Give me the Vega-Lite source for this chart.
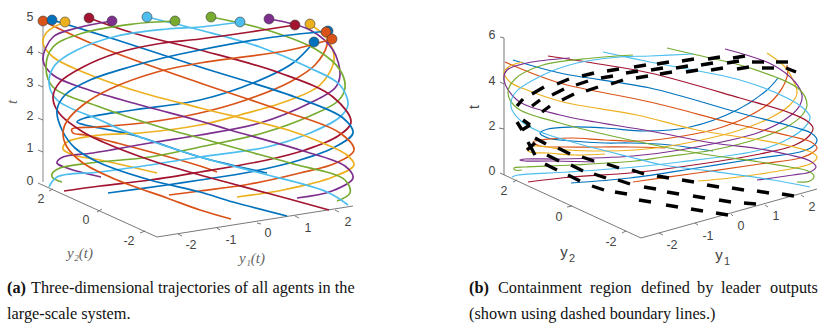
{"$schema":"https://vega.github.io/schema/vega-lite/v6.json","width":832,"height":329,"autosize":{"type":"fit","contains":"padding"},"padding":0,"background":"white","config":{"view":{"stroke":null}},
"datasets":{
"a":[
{"a":1,"c":"blue","i":0,"x":267,"y":173},{"a":1,"c":"blue","i":1,"x":200,"y":157},{"a":1,"c":"blue","i":2,"x":133,"y":135},{"a":1,"c":"blue","i":3,"x":100,"y":128},{"a":1,"c":"blue","i":4,"x":85,"y":125},{"a":1,"c":"blue","i":5,"x":77,"y":122},{"a":1,"c":"blue","i":6,"x":85,"y":118},{"a":1,"c":"blue","i":7,"x":133,"y":110},{"a":1,"c":"blue","i":8,"x":200,"y":100},{"a":1,"c":"blue","i":9,"x":253,"y":83},{"a":1,"c":"blue","i":10,"x":293,"y":63},{"a":1,"c":"blue","i":11,"x":314,"y":42},
{"a":2,"c":"orange","i":0,"x":217,"y":172},{"a":2,"c":"orange","i":1,"x":200,"y":166},{"a":2,"c":"orange","i":2,"x":117,"y":143},{"a":2,"c":"orange","i":3,"x":85,"y":135},{"a":2,"c":"orange","i":4,"x":73,"y":133},{"a":2,"c":"orange","i":5,"x":72,"y":129},{"a":2,"c":"orange","i":6,"x":97,"y":127},{"a":2,"c":"orange","i":7,"x":150,"y":122},{"a":2,"c":"orange","i":8,"x":200,"y":113},{"a":2,"c":"orange","i":9,"x":246,"y":100},{"a":2,"c":"orange","i":10,"x":290,"y":82},{"a":2,"c":"orange","i":11,"x":315,"y":65},{"a":2,"c":"orange","i":12,"x":327,"y":45},{"a":2,"c":"orange","i":13,"x":326,"y":32},
{"a":3,"c":"yellow","i":0,"x":157,"y":173},{"a":3,"c":"yellow","i":1,"x":100,"y":160},{"a":3,"c":"yellow","i":2,"x":73,"y":155},{"a":3,"c":"yellow","i":3,"x":63,"y":149},{"a":3,"c":"yellow","i":4,"x":67,"y":142},{"a":3,"c":"yellow","i":5,"x":100,"y":135},{"a":3,"c":"yellow","i":6,"x":140,"y":133},{"a":3,"c":"yellow","i":7,"x":200,"y":125},{"a":3,"c":"yellow","i":8,"x":240,"y":115},{"a":3,"c":"yellow","i":9,"x":290,"y":100},{"a":3,"c":"yellow","i":10,"x":320,"y":85},{"a":3,"c":"yellow","i":11,"x":334,"y":60},{"a":3,"c":"yellow","i":12,"x":328,"y":40},{"a":3,"c":"yellow","i":13,"x":310,"y":24},
{"a":4,"c":"purple","i":0,"x":101,"y":177},{"a":4,"c":"purple","i":1,"x":67,"y":168},{"a":4,"c":"purple","i":2,"x":57,"y":163},{"a":4,"c":"purple","i":3,"x":63,"y":157},{"a":4,"c":"purple","i":4,"x":93,"y":153},{"a":4,"c":"purple","i":5,"x":150,"y":143},{"a":4,"c":"purple","i":6,"x":200,"y":135},{"a":4,"c":"purple","i":7,"x":260,"y":123},{"a":4,"c":"purple","i":8,"x":310,"y":103},{"a":4,"c":"purple","i":9,"x":335,"y":88},{"a":4,"c":"purple","i":10,"x":340,"y":75},{"a":4,"c":"purple","i":11,"x":333,"y":50},{"a":4,"c":"purple","i":12,"x":310,"y":30},{"a":4,"c":"purple","i":13,"x":269,"y":19},
{"a":5,"c":"green","i":0,"x":62,"y":182},{"a":5,"c":"green","i":1,"x":53,"y":178},{"a":5,"c":"green","i":2,"x":52,"y":174},{"a":5,"c":"green","i":3,"x":60,"y":168},{"a":5,"c":"green","i":4,"x":90,"y":163},{"a":5,"c":"green","i":5,"x":150,"y":157},{"a":5,"c":"green","i":6,"x":200,"y":147},{"a":5,"c":"green","i":7,"x":263,"y":133},{"a":5,"c":"green","i":8,"x":310,"y":116},{"a":5,"c":"green","i":9,"x":338,"y":101},{"a":5,"c":"green","i":10,"x":345,"y":88},{"a":5,"c":"green","i":11,"x":340,"y":70},{"a":5,"c":"green","i":12,"x":317,"y":50},{"a":5,"c":"green","i":13,"x":267,"y":30},{"a":5,"c":"green","i":14,"x":211,"y":17},
{"a":6,"c":"lightblue","i":0,"x":49,"y":187},{"a":6,"c":"lightblue","i":1,"x":57,"y":177},{"a":6,"c":"lightblue","i":2,"x":100,"y":172},{"a":6,"c":"lightblue","i":3,"x":150,"y":165},{"a":6,"c":"lightblue","i":4,"x":200,"y":157},{"a":6,"c":"lightblue","i":5,"x":267,"y":147},{"a":6,"c":"lightblue","i":6,"x":310,"y":133},{"a":6,"c":"lightblue","i":7,"x":340,"y":117},{"a":6,"c":"lightblue","i":8,"x":348,"y":105},{"a":6,"c":"lightblue","i":9,"x":340,"y":85},{"a":6,"c":"lightblue","i":10,"x":310,"y":68},{"a":6,"c":"lightblue","i":11,"x":260,"y":47},{"a":6,"c":"lightblue","i":12,"x":200,"y":30},{"a":6,"c":"lightblue","i":13,"x":147,"y":17},
{"a":7,"c":"crimson","i":0,"x":64,"y":191},{"a":7,"c":"crimson","i":1,"x":100,"y":186},{"a":7,"c":"crimson","i":2,"x":150,"y":180},{"a":7,"c":"crimson","i":3,"x":200,"y":172},{"a":7,"c":"crimson","i":4,"x":267,"y":160},{"a":7,"c":"crimson","i":5,"x":305,"y":150},{"a":7,"c":"crimson","i":6,"x":338,"y":136},{"a":7,"c":"crimson","i":7,"x":351,"y":122},{"a":7,"c":"crimson","i":8,"x":333,"y":97},{"a":7,"c":"crimson","i":9,"x":280,"y":73},{"a":7,"c":"crimson","i":10,"x":200,"y":50},{"a":7,"c":"crimson","i":11,"x":133,"y":33},{"a":7,"c":"crimson","i":12,"x":89,"y":18},
{"a":8,"c":"blue","i":0,"x":108,"y":193},{"a":8,"c":"blue","i":1,"x":167,"y":185},{"a":8,"c":"blue","i":2,"x":200,"y":180},{"a":8,"c":"blue","i":3,"x":250,"y":172},{"a":8,"c":"blue","i":4,"x":300,"y":160},{"a":8,"c":"blue","i":5,"x":335,"y":147},{"a":8,"c":"blue","i":6,"x":353,"y":133},{"a":8,"c":"blue","i":7,"x":343,"y":118},{"a":8,"c":"blue","i":8,"x":295,"y":97},{"a":8,"c":"blue","i":9,"x":200,"y":67},{"a":8,"c":"blue","i":10,"x":117,"y":40},{"a":8,"c":"blue","i":11,"x":52,"y":20},
{"a":9,"c":"orange","i":0,"x":169,"y":195},{"a":9,"c":"orange","i":1,"x":200,"y":191},{"a":9,"c":"orange","i":2,"x":250,"y":184},{"a":9,"c":"orange","i":3,"x":300,"y":173},{"a":9,"c":"orange","i":4,"x":336,"y":163},{"a":9,"c":"orange","i":5,"x":354,"y":150},{"a":9,"c":"orange","i":6,"x":340,"y":133},{"a":9,"c":"orange","i":7,"x":280,"y":110},{"a":9,"c":"orange","i":8,"x":200,"y":83},{"a":9,"c":"orange","i":9,"x":100,"y":47},{"a":9,"c":"orange","i":10,"x":43,"y":21},
{"a":10,"c":"yellow","i":0,"x":237,"y":197},{"a":10,"c":"yellow","i":1,"x":283,"y":190},{"a":10,"c":"yellow","i":2,"x":333,"y":177},{"a":10,"c":"yellow","i":3,"x":354,"y":165},{"a":10,"c":"yellow","i":4,"x":347,"y":155},{"a":10,"c":"yellow","i":5,"x":323,"y":143},{"a":10,"c":"yellow","i":6,"x":288,"y":130},{"a":10,"c":"yellow","i":7,"x":200,"y":108},{"a":10,"c":"yellow","i":8,"x":133,"y":90},{"a":10,"c":"yellow","i":9,"x":83,"y":72},{"a":10,"c":"yellow","i":10,"x":53,"y":57},{"a":10,"c":"yellow","i":11,"x":43,"y":43},{"a":10,"c":"yellow","i":12,"x":47,"y":32},{"a":10,"c":"yellow","i":13,"x":65,"y":22},
{"a":11,"c":"purple","i":0,"x":297,"y":198},{"a":11,"c":"purple","i":1,"x":332,"y":191},{"a":11,"c":"purple","i":2,"x":353,"y":178},{"a":11,"c":"purple","i":3,"x":345,"y":166},{"a":11,"c":"purple","i":4,"x":300,"y":150},{"a":11,"c":"purple","i":5,"x":230,"y":130},{"a":11,"c":"purple","i":6,"x":200,"y":121},{"a":11,"c":"purple","i":7,"x":133,"y":103},{"a":11,"c":"purple","i":8,"x":83,"y":88},{"a":11,"c":"purple","i":9,"x":53,"y":75},{"a":11,"c":"purple","i":10,"x":43,"y":60},{"a":11,"c":"purple","i":11,"x":53,"y":37},{"a":11,"c":"purple","i":12,"x":77,"y":28},{"a":11,"c":"purple","i":13,"x":112,"y":21},
{"a":12,"c":"green","i":0,"x":337,"y":201},{"a":12,"c":"green","i":1,"x":350,"y":193},{"a":12,"c":"green","i":2,"x":345,"y":180},{"a":12,"c":"green","i":3,"x":290,"y":163},{"a":12,"c":"green","i":4,"x":243,"y":150},{"a":12,"c":"green","i":5,"x":200,"y":138},{"a":12,"c":"green","i":6,"x":160,"y":127},{"a":12,"c":"green","i":7,"x":100,"y":107},{"a":12,"c":"green","i":8,"x":53,"y":87},{"a":12,"c":"green","i":9,"x":46,"y":68},{"a":12,"c":"green","i":10,"x":53,"y":47},{"a":12,"c":"green","i":11,"x":83,"y":33},{"a":12,"c":"green","i":12,"x":133,"y":24},{"a":12,"c":"green","i":13,"x":175,"y":21},
{"a":13,"c":"lightblue","i":0,"x":348,"y":205},{"a":13,"c":"lightblue","i":1,"x":327,"y":192},{"a":13,"c":"lightblue","i":2,"x":260,"y":173},{"a":13,"c":"lightblue","i":3,"x":200,"y":157},{"a":13,"c":"lightblue","i":4,"x":127,"y":132},{"a":13,"c":"lightblue","i":5,"x":100,"y":120},{"a":13,"c":"lightblue","i":6,"x":57,"y":100},{"a":13,"c":"lightblue","i":7,"x":49,"y":83},{"a":13,"c":"lightblue","i":8,"x":55,"y":65},{"a":13,"c":"lightblue","i":9,"x":77,"y":50},{"a":13,"c":"lightblue","i":10,"x":117,"y":36},{"a":13,"c":"lightblue","i":11,"x":167,"y":29},{"a":13,"c":"lightblue","i":12,"x":200,"y":27},{"a":13,"c":"lightblue","i":13,"x":240,"y":22},
{"a":14,"c":"crimson","i":0,"x":329,"y":210},{"a":14,"c":"crimson","i":1,"x":267,"y":193},{"a":14,"c":"crimson","i":2,"x":200,"y":175},{"a":14,"c":"crimson","i":3,"x":150,"y":160},{"a":14,"c":"crimson","i":4,"x":103,"y":142},{"a":14,"c":"crimson","i":5,"x":83,"y":132},{"a":14,"c":"crimson","i":6,"x":59,"y":113},{"a":14,"c":"crimson","i":7,"x":53,"y":97},{"a":14,"c":"crimson","i":8,"x":60,"y":82},{"a":14,"c":"crimson","i":9,"x":83,"y":67},{"a":14,"c":"crimson","i":10,"x":117,"y":53},{"a":14,"c":"crimson","i":11,"x":157,"y":44},{"a":14,"c":"crimson","i":12,"x":200,"y":39},{"a":14,"c":"crimson","i":13,"x":250,"y":32},{"a":14,"c":"crimson","i":14,"x":295,"y":25},
{"a":15,"c":"blue","i":0,"x":287,"y":216},{"a":15,"c":"blue","i":1,"x":233,"y":202},{"a":15,"c":"blue","i":2,"x":200,"y":192},{"a":15,"c":"blue","i":3,"x":150,"y":180},{"a":15,"c":"blue","i":4,"x":100,"y":163},{"a":15,"c":"blue","i":5,"x":75,"y":148},{"a":15,"c":"blue","i":6,"x":62,"y":130},{"a":15,"c":"blue","i":7,"x":57,"y":110},{"a":15,"c":"blue","i":8,"x":65,"y":95},{"a":15,"c":"blue","i":9,"x":90,"y":80},{"a":15,"c":"blue","i":10,"x":133,"y":66},{"a":15,"c":"blue","i":11,"x":167,"y":57},{"a":15,"c":"blue","i":12,"x":200,"y":50},{"a":15,"c":"blue","i":13,"x":267,"y":38},{"a":15,"c":"blue","i":14,"x":328,"y":31},
{"a":16,"c":"orange","i":0,"x":231,"y":219},{"a":16,"c":"orange","i":1,"x":200,"y":210},{"a":16,"c":"orange","i":2,"x":167,"y":198},{"a":16,"c":"orange","i":3,"x":117,"y":180},{"a":16,"c":"orange","i":4,"x":83,"y":163},{"a":16,"c":"orange","i":5,"x":67,"y":147},{"a":16,"c":"orange","i":6,"x":63,"y":133},{"a":16,"c":"orange","i":7,"x":67,"y":121},{"a":16,"c":"orange","i":8,"x":83,"y":105},{"a":16,"c":"orange","i":9,"x":110,"y":89},{"a":16,"c":"orange","i":10,"x":157,"y":72},{"a":16,"c":"orange","i":11,"x":200,"y":63},{"a":16,"c":"orange","i":12,"x":290,"y":50},{"a":16,"c":"orange","i":13,"x":332,"y":39}
],
"b":[
{"a":1,"c":"blue","i":0,"x":713,"y":151},{"a":1,"c":"blue","i":1,"x":670,"y":145},{"a":1,"c":"blue","i":2,"x":630,"y":143},{"a":1,"c":"blue","i":3,"x":605,"y":143},{"a":1,"c":"blue","i":4,"x":572,"y":141},{"a":1,"c":"blue","i":5,"x":548,"y":138},{"a":1,"c":"blue","i":6,"x":540,"y":133},{"a":1,"c":"blue","i":7,"x":548,"y":129},{"a":1,"c":"blue","i":8,"x":572,"y":127},{"a":1,"c":"blue","i":9,"x":605,"y":128},{"a":1,"c":"blue","i":10,"x":645,"y":131},{"a":1,"c":"blue","i":11,"x":690,"y":127},{"a":1,"c":"blue","i":12,"x":737,"y":110},{"a":1,"c":"blue","i":13,"x":767,"y":90},{"a":1,"c":"blue","i":14,"x":778,"y":78},
{"a":2,"c":"orange","i":0,"x":665,"y":148},{"a":2,"c":"orange","i":1,"x":630,"y":147},{"a":2,"c":"orange","i":2,"x":600,"y":147},{"a":2,"c":"orange","i":3,"x":565,"y":147},{"a":2,"c":"orange","i":4,"x":540,"y":146},{"a":2,"c":"orange","i":5,"x":533,"y":142},{"a":2,"c":"orange","i":6,"x":540,"y":140},{"a":2,"c":"orange","i":7,"x":550,"y":139},{"a":2,"c":"orange","i":8,"x":572,"y":138},{"a":2,"c":"orange","i":9,"x":605,"y":140},{"a":2,"c":"orange","i":10,"x":640,"y":141},{"a":2,"c":"orange","i":11,"x":683,"y":136},{"a":2,"c":"orange","i":12,"x":716,"y":129},{"a":2,"c":"orange","i":13,"x":747,"y":117},{"a":2,"c":"orange","i":14,"x":773,"y":100},{"a":2,"c":"orange","i":15,"x":787,"y":77},{"a":2,"c":"orange","i":16,"x":787,"y":65},
{"a":3,"c":"yellow","i":0,"x":605,"y":154},{"a":3,"c":"yellow","i":1,"x":575,"y":155},{"a":3,"c":"yellow","i":2,"x":548,"y":153},{"a":3,"c":"yellow","i":3,"x":530,"y":152},{"a":3,"c":"yellow","i":4,"x":527,"y":149},{"a":3,"c":"yellow","i":5,"x":535,"y":146},{"a":3,"c":"yellow","i":6,"x":568,"y":150},{"a":3,"c":"yellow","i":7,"x":605,"y":151},{"a":3,"c":"yellow","i":8,"x":635,"y":150},{"a":3,"c":"yellow","i":9,"x":663,"y":147},{"a":3,"c":"yellow","i":10,"x":697,"y":141},{"a":3,"c":"yellow","i":11,"x":740,"y":130},{"a":3,"c":"yellow","i":12,"x":770,"y":118},{"a":3,"c":"yellow","i":13,"x":790,"y":105},{"a":3,"c":"yellow","i":14,"x":797,"y":93},{"a":3,"c":"yellow","i":15,"x":793,"y":80},{"a":3,"c":"yellow","i":16,"x":785,"y":67},{"a":3,"c":"yellow","i":17,"x":767,"y":53},
{"a":4,"c":"purple","i":0,"x":595,"y":162},{"a":4,"c":"purple","i":1,"x":550,"y":161},{"a":4,"c":"purple","i":2,"x":525,"y":161},{"a":4,"c":"purple","i":3,"x":520,"y":160},{"a":4,"c":"purple","i":4,"x":525,"y":159},{"a":4,"c":"purple","i":5,"x":560,"y":159},{"a":4,"c":"purple","i":6,"x":633,"y":156},{"a":4,"c":"purple","i":7,"x":680,"y":150},{"a":4,"c":"purple","i":8,"x":760,"y":132},{"a":4,"c":"purple","i":9,"x":790,"y":116},{"a":4,"c":"purple","i":10,"x":800,"y":105},{"a":4,"c":"purple","i":11,"x":802,"y":95},{"a":4,"c":"purple","i":12,"x":795,"y":82},{"a":4,"c":"purple","i":13,"x":773,"y":65},{"a":4,"c":"purple","i":14,"x":725,"y":49},
{"a":5,"c":"green","i":0,"x":522,"y":170},{"a":5,"c":"green","i":1,"x":515,"y":170},{"a":5,"c":"green","i":2,"x":514,"y":168},{"a":5,"c":"green","i":3,"x":525,"y":167},{"a":5,"c":"green","i":4,"x":572,"y":165},{"a":5,"c":"green","i":5,"x":635,"y":161},{"a":5,"c":"green","i":6,"x":663,"y":157},{"a":5,"c":"green","i":7,"x":713,"y":150},{"a":5,"c":"green","i":8,"x":760,"y":138},{"a":5,"c":"green","i":9,"x":790,"y":125},{"a":5,"c":"green","i":10,"x":803,"y":114},{"a":5,"c":"green","i":11,"x":807,"y":105},{"a":5,"c":"green","i":12,"x":800,"y":90},{"a":5,"c":"green","i":13,"x":750,"y":68},{"a":5,"c":"green","i":14,"x":697,"y":55},{"a":5,"c":"green","i":15,"x":667,"y":48},
{"a":6,"c":"lightblue","i":0,"x":512,"y":177},{"a":6,"c":"lightblue","i":1,"x":518,"y":175},{"a":6,"c":"lightblue","i":2,"x":568,"y":172},{"a":6,"c":"lightblue","i":3,"x":635,"y":167},{"a":6,"c":"lightblue","i":4,"x":680,"y":162},{"a":6,"c":"lightblue","i":5,"x":760,"y":150},{"a":6,"c":"lightblue","i":6,"x":790,"y":138},{"a":6,"c":"lightblue","i":7,"x":805,"y":127},{"a":6,"c":"lightblue","i":8,"x":810,"y":117},{"a":6,"c":"lightblue","i":9,"x":803,"y":108},{"a":6,"c":"lightblue","i":10,"x":787,"y":98},{"a":6,"c":"lightblue","i":11,"x":740,"y":80},{"a":6,"c":"lightblue","i":12,"x":650,"y":62},{"a":6,"c":"lightblue","i":13,"x":603,"y":52},
{"a":7,"c":"crimson","i":0,"x":528,"y":182},{"a":7,"c":"crimson","i":1,"x":572,"y":177},{"a":7,"c":"crimson","i":2,"x":630,"y":173},{"a":7,"c":"crimson","i":3,"x":680,"y":167},{"a":7,"c":"crimson","i":4,"x":760,"y":154},{"a":7,"c":"crimson","i":5,"x":795,"y":145},{"a":7,"c":"crimson","i":6,"x":809,"y":136},{"a":7,"c":"crimson","i":7,"x":813,"y":128},{"a":7,"c":"crimson","i":8,"x":807,"y":121},{"a":7,"c":"crimson","i":9,"x":790,"y":113},{"a":7,"c":"crimson","i":10,"x":740,"y":98},{"a":7,"c":"crimson","i":11,"x":650,"y":73},{"a":7,"c":"crimson","i":12,"x":593,"y":63},{"a":7,"c":"crimson","i":13,"x":548,"y":56},
{"a":8,"c":"blue","i":0,"x":571,"y":183},{"a":8,"c":"blue","i":1,"x":630,"y":178},{"a":8,"c":"blue","i":2,"x":697,"y":168},{"a":8,"c":"blue","i":3,"x":760,"y":158},{"a":8,"c":"blue","i":4,"x":800,"y":152},{"a":8,"c":"blue","i":5,"x":812,"y":147},{"a":8,"c":"blue","i":6,"x":817,"y":140},{"a":8,"c":"blue","i":7,"x":811,"y":133},{"a":8,"c":"blue","i":8,"x":790,"y":126},{"a":8,"c":"blue","i":9,"x":740,"y":113},{"a":8,"c":"blue","i":10,"x":650,"y":88},{"a":8,"c":"blue","i":11,"x":560,"y":73},{"a":8,"c":"blue","i":12,"x":513,"y":60},
{"a":9,"c":"orange","i":0,"x":633,"y":182},{"a":9,"c":"orange","i":1,"x":697,"y":173},{"a":9,"c":"orange","i":2,"x":760,"y":164},{"a":9,"c":"orange","i":3,"x":800,"y":158},{"a":9,"c":"orange","i":4,"x":812,"y":153},{"a":9,"c":"orange","i":5,"x":817,"y":148},{"a":9,"c":"orange","i":6,"x":811,"y":142},{"a":9,"c":"orange","i":7,"x":790,"y":136},{"a":9,"c":"orange","i":8,"x":740,"y":125},{"a":9,"c":"orange","i":9,"x":650,"y":102},{"a":9,"c":"orange","i":10,"x":560,"y":83},{"a":9,"c":"orange","i":11,"x":505,"y":62},
{"a":10,"c":"yellow","i":0,"x":698,"y":181},{"a":10,"c":"yellow","i":1,"x":730,"y":178},{"a":10,"c":"yellow","i":2,"x":760,"y":174},{"a":10,"c":"yellow","i":3,"x":800,"y":167},{"a":10,"c":"yellow","i":4,"x":812,"y":163},{"a":10,"c":"yellow","i":5,"x":817,"y":157},{"a":10,"c":"yellow","i":6,"x":811,"y":152},{"a":10,"c":"yellow","i":7,"x":790,"y":146},{"a":10,"c":"yellow","i":8,"x":760,"y":140},{"a":10,"c":"yellow","i":9,"x":697,"y":130},{"a":10,"c":"yellow","i":10,"x":637,"y":115},{"a":10,"c":"yellow","i":11,"x":563,"y":102},{"a":10,"c":"yellow","i":12,"x":527,"y":90},{"a":10,"c":"yellow","i":13,"x":510,"y":82},{"a":10,"c":"yellow","i":14,"x":504,"y":72},{"a":10,"c":"yellow","i":15,"x":510,"y":66},{"a":10,"c":"yellow","i":16,"x":523,"y":62},
{"a":11,"c":"purple","i":0,"x":757,"y":180},{"a":11,"c":"purple","i":1,"x":793,"y":175},{"a":11,"c":"purple","i":2,"x":810,"y":172},{"a":11,"c":"purple","i":3,"x":816,"y":167},{"a":11,"c":"purple","i":4,"x":810,"y":161},{"a":11,"c":"purple","i":5,"x":790,"y":155},{"a":11,"c":"purple","i":6,"x":760,"y":149},{"a":11,"c":"purple","i":7,"x":713,"y":143},{"a":11,"c":"purple","i":8,"x":650,"y":131},{"a":11,"c":"purple","i":9,"x":560,"y":115},{"a":11,"c":"purple","i":10,"x":517,"y":100},{"a":11,"c":"purple","i":11,"x":504,"y":80},{"a":11,"c":"purple","i":12,"x":507,"y":70},{"a":11,"c":"purple","i":13,"x":527,"y":63},{"a":11,"c":"purple","i":14,"x":570,"y":58},
{"a":12,"c":"green","i":0,"x":797,"y":182},{"a":12,"c":"green","i":1,"x":810,"y":181},{"a":12,"c":"green","i":2,"x":814,"y":176},{"a":12,"c":"green","i":3,"x":808,"y":171},{"a":12,"c":"green","i":4,"x":790,"y":167},{"a":12,"c":"green","i":5,"x":760,"y":162},{"a":12,"c":"green","i":6,"x":697,"y":153},{"a":12,"c":"green","i":7,"x":630,"y":140},{"a":12,"c":"green","i":8,"x":560,"y":123},{"a":12,"c":"green","i":9,"x":517,"y":108},{"a":12,"c":"green","i":10,"x":508,"y":93},{"a":12,"c":"green","i":11,"x":515,"y":79},{"a":12,"c":"green","i":12,"x":543,"y":65},{"a":12,"c":"green","i":13,"x":593,"y":58},{"a":12,"c":"green","i":14,"x":633,"y":55},
{"a":13,"c":"lightblue","i":0,"x":810,"y":187},{"a":13,"c":"lightblue","i":1,"x":773,"y":180},{"a":13,"c":"lightblue","i":2,"x":710,"y":171},{"a":13,"c":"lightblue","i":3,"x":663,"y":165},{"a":13,"c":"lightblue","i":4,"x":630,"y":157},{"a":13,"c":"lightblue","i":5,"x":572,"y":142},{"a":13,"c":"lightblue","i":6,"x":538,"y":131},{"a":13,"c":"lightblue","i":7,"x":521,"y":121},{"a":13,"c":"lightblue","i":8,"x":511,"y":107},{"a":13,"c":"lightblue","i":9,"x":515,"y":93},{"a":13,"c":"lightblue","i":10,"x":543,"y":75},{"a":13,"c":"lightblue","i":11,"x":577,"y":63},{"a":13,"c":"lightblue","i":12,"x":620,"y":57},{"a":13,"c":"lightblue","i":13,"x":650,"y":56},{"a":13,"c":"lightblue","i":14,"x":693,"y":54}
],
"leaders":[{"c":"orange","x":43,"y":21},{"c":"blue","x":52,"y":20},{"c":"yellow","x":65,"y":22},{"c":"crimson","x":89,"y":18},{"c":"purple","x":112,"y":21},{"c":"lightblue","x":147,"y":17},{"c":"green","x":175,"y":21},{"c":"green","x":211,"y":17},{"c":"lightblue","x":240,"y":22},{"c":"purple","x":269,"y":19},{"c":"crimson","x":295,"y":25},{"c":"yellow","x":310,"y":24},{"c":"blue","x":328,"y":31},{"c":"orange","x":326,"y":32},{"c":"orange","x":332,"y":39},{"c":"blue","x":314,"y":42}],
"axisLines":[{"x":38,"y":183,"x2":157,"y2":237},{"x":157,"y":237,"x2":353,"y2":206},{"x":38,"y":52,"x2":43,"y2":54},{"x":38,"y":85,"x2":43,"y2":87},{"x":38,"y":118,"x2":43,"y2":120},{"x":38,"y":150,"x2":43,"y2":152},{"x":49,"y":191,"x2":53,"y2":189},{"x":97,"y":212,"x2":102,"y2":209},{"x":140,"y":233,"x2":145,"y2":231},{"x":178,"y":234,"x2":182,"y2":236},{"x":217,"y":228,"x2":220,"y2":230},{"x":257,"y":223,"x2":261,"y2":224},{"x":295,"y":216,"x2":299,"y2":218},{"x":335,"y":210,"x2":339,"y2":212},
{"x":504,"y":38,"x2":504,"y2":175},{"x":500,"y":173,"x2":641,"y2":238},{"x":641,"y":238,"x2":817,"y2":189},{"x":500,"y":37,"x2":504,"y2":38},{"x":500,"y":82,"x2":504,"y2":84},{"x":499,"y":128,"x2":504,"y2":129},{"x":513,"y":182,"x2":517,"y2":180},{"x":567,"y":207,"x2":572,"y2":206},{"x":622,"y":233,"x2":626,"y2":231},{"x":659,"y":233,"x2":663,"y2":235},{"x":695,"y":223,"x2":698,"y2":225},{"x":731,"y":214,"x2":733,"y2":216},{"x":765,"y":205,"x2":768,"y2":207},{"x":801,"y":195,"x2":804,"y2":197}],
"tAxisA":[{"x":43,"y":24,"x2":43,"y2":182}],
"dashes":[
{"x":517,"y":106,"x2":523,"y2":99},{"x":532,"y":94,"x2":544,"y2":87},{"x":557,"y":84,"x2":569,"y2":79},{"x":582,"y":76,"x2":594,"y2":73},{"x":607,"y":71,"x2":619,"y2":69},{"x":634,"y":67,"x2":646,"y2":65},{"x":657,"y":64,"x2":669,"y2":62},{"x":682,"y":61,"x2":694,"y2":59},{"x":708,"y":59,"x2":720,"y2":57},{"x":733,"y":58,"x2":745,"y2":56},
{"x":532,"y":106,"x2":540,"y2":100},{"x":552,"y":95,"x2":564,"y2":89},{"x":576,"y":85,"x2":588,"y2":81},{"x":601,"y":78,"x2":613,"y2":76},{"x":626,"y":73,"x2":638,"y2":71},{"x":651,"y":70,"x2":663,"y2":68},{"x":676,"y":68,"x2":688,"y2":66},{"x":701,"y":65,"x2":713,"y2":63},{"x":727,"y":63,"x2":739,"y2":61},{"x":752,"y":62,"x2":764,"y2":62},{"x":776,"y":62,"x2":788,"y2":62},
{"x":542,"y":112,"x2":550,"y2":106},{"x":562,"y":100,"x2":574,"y2":94},{"x":586,"y":91,"x2":598,"y2":87},{"x":611,"y":84,"x2":623,"y2":80},{"x":636,"y":78,"x2":648,"y2":76},{"x":660,"y":74,"x2":672,"y2":72},{"x":686,"y":72,"x2":698,"y2":70},{"x":711,"y":70,"x2":723,"y2":68},{"x":737,"y":69,"x2":749,"y2":67},{"x":762,"y":68,"x2":774,"y2":68},{"x":786,"y":68,"x2":796,"y2":72},
{"x":535,"y":138,"x2":546,"y2":144},{"x":558,"y":148,"x2":570,"y2":154},{"x":582,"y":157,"x2":594,"y2":161},{"x":607,"y":164,"x2":619,"y2":168},{"x":632,"y":170,"x2":644,"y2":174},{"x":657,"y":176,"x2":669,"y2":178},{"x":682,"y":180,"x2":694,"y2":182},{"x":707,"y":185,"x2":719,"y2":187},{"x":732,"y":188,"x2":744,"y2":190},{"x":757,"y":191,"x2":769,"y2":193},{"x":782,"y":194,"x2":794,"y2":196},
{"x":547,"y":155,"x2":559,"y2":161},{"x":571,"y":165,"x2":583,"y2":171},{"x":594,"y":174,"x2":606,"y2":178},{"x":618,"y":180,"x2":630,"y2":184},{"x":644,"y":187,"x2":656,"y2":189},{"x":667,"y":192,"x2":679,"y2":194},{"x":693,"y":196,"x2":705,"y2":198},{"x":719,"y":200,"x2":731,"y2":202},{"x":744,"y":203,"x2":756,"y2":204},
{"x":545,"y":164,"x2":557,"y2":170},{"x":568,"y":175,"x2":580,"y2":181},{"x":592,"y":186,"x2":604,"y2":190},{"x":615,"y":192,"x2":627,"y2":194},{"x":639,"y":200,"x2":651,"y2":202},{"x":666,"y":205,"x2":678,"y2":207},{"x":691,"y":209,"x2":703,"y2":211},{"x":716,"y":213,"x2":728,"y2":215},
{"x":517,"y":122,"x2":522,"y2":130},{"x":522,"y":130,"x2":530,"y2":125},{"x":523,"y":120,"x2":530,"y2":125},{"x":528,"y":142,"x2":535,"y2":155},{"x":527,"y":150,"x2":535,"y2":143}],
"ticks":[{"x":30,"y":17,"t":"5"},{"x":30,"y":51,"t":"4"},{"x":30,"y":83,"t":"3"},{"x":30,"y":116,"t":"2"},{"x":30,"y":148,"t":"1"},{"x":30,"y":181,"t":"0"},{"x":41,"y":199,"t":"2"},{"x":86,"y":220,"t":"0"},{"x":129,"y":241,"t":"-2"},{"x":191,"y":245,"t":"-2"},{"x":231,"y":240,"t":"-1"},{"x":268,"y":233,"t":"0"},{"x":308,"y":228,"t":"1"},{"x":348,"y":222,"t":"2"},
{"x":492,"y":35,"t":"6"},{"x":492,"y":81,"t":"4"},{"x":492,"y":126,"t":"2"},{"x":492,"y":171,"t":"0"},{"x":504,"y":191,"t":"2"},{"x":559,"y":217,"t":"0"},{"x":611,"y":242,"t":"-2"},{"x":672,"y":245,"t":"-2"},{"x":708,"y":236,"t":"-1"},{"x":741,"y":226,"t":"0"},{"x":776,"y":216,"t":"1"},{"x":812,"y":207,"t":"2"}],
"mathA":[{"x":80,"y":253,"t":"y₂(t)"},{"x":252,"y":258,"t":"y₁(t)"}],
"tA":[{"x":12,"y":102,"t":"t"}],
"tB":[{"x":475,"y":107,"t":"t"}],
"labB":[{"x":564,"y":252,"t":"y"},{"x":719,"y":255,"t":"y"}],
"subB":[{"x":572,"y":259,"t":"2"},{"x":727,"y":262,"t":"1"}],
"capBold":[{"x":7,"y":288,"t":"(a)"},{"x":469,"y":288,"t":"(b)"}],
"cap":[{"x":31,"y":288,"t":"Three-dimensional trajectories of all agents in the"},{"x":7,"y":314,"t":"large-scale system."},{"x":498,"y":288,"t":"Containment"},{"x":590,"y":288,"t":"region"},{"x":641,"y":288,"t":"defined"},{"x":697,"y":288,"t":"by"},{"x":721,"y":288,"t":"leader"},{"x":770,"y":288,"t":"outputs"},{"x":469,"y":314,"t":"(shown using dashed boundary lines.)"}]
},
"encoding":{"x":{"field":"x","type":"quantitative","scale":{"domain":[0,832],"nice":false,"zero":false},"axis":null},"y":{"field":"y","type":"quantitative","scale":{"domain":[329,0],"nice":false,"zero":false},"axis":null}},
"layer":[
{"data":{"name":"tAxisA"},"mark":{"type":"rule","color":"#b5b5b5","strokeWidth":1.6},"encoding":{"x2":{"field":"x2"},"y2":{"field":"y2"}}},
{"data":{"name":"axisLines"},"mark":{"type":"rule","color":"#6a6a6a","strokeWidth":0.9},"encoding":{"x2":{"field":"x2"},"y2":{"field":"y2"}}},
{"data":{"name":"a"},"mark":{"type":"line","interpolate":"catmull-rom","strokeWidth":1.7},"encoding":{"detail":{"field":"a"},"order":{"field":"i","type":"quantitative"},"color":{"field":"c","type":"nominal","legend":null,"scale":{"domain":["blue","orange","yellow","purple","green","lightblue","crimson"],"range":["#0072BD","#D95319","#EDB120","#7E2F8E","#77AC30","#4DBEEE","#A2142F"]}}}},
{"data":{"name":"b"},"mark":{"type":"line","interpolate":"catmull-rom","strokeWidth":1.2},"encoding":{"detail":{"field":"a"},"order":{"field":"i","type":"quantitative"},"color":{"field":"c","type":"nominal","legend":null}}},
{"data":{"name":"dashes"},"mark":{"type":"rule","color":"#000000","strokeWidth":3.4},"encoding":{"x2":{"field":"x2"},"y2":{"field":"y2"}}},
{"data":{"name":"leaders"},"mark":{"type":"point","shape":"circle","filled":true,"opacity":1,"size":100,"stroke":"#3a3a3a","strokeWidth":0.6},"encoding":{"color":{"field":"c","type":"nominal","legend":null}}},
{"data":{"name":"ticks"},"mark":{"type":"text","font":"Liberation Sans","fontSize":12.5,"color":"#444444","align":"center","baseline":"middle"},"encoding":{"text":{"field":"t"}}},
{"data":{"name":"mathA"},"mark":{"type":"text","font":"Liberation Serif","fontStyle":"italic","fontSize":15,"color":"#666666","align":"center","baseline":"middle"},"encoding":{"text":{"field":"t"}}},
{"data":{"name":"tA"},"mark":{"type":"text","font":"Liberation Serif","fontStyle":"italic","fontSize":15,"color":"#666666","align":"center","baseline":"middle","angle":270},"encoding":{"text":{"field":"t"}}},
{"data":{"name":"tB"},"mark":{"type":"text","font":"Liberation Sans","fontSize":14,"color":"#444444","align":"center","baseline":"middle","angle":270},"encoding":{"text":{"field":"t"}}},
{"data":{"name":"labB"},"mark":{"type":"text","font":"Liberation Sans","fontSize":15,"color":"#444444","align":"center","baseline":"middle"},"encoding":{"text":{"field":"t"}}},
{"data":{"name":"subB"},"mark":{"type":"text","font":"Liberation Sans","fontSize":11,"color":"#444444","align":"center","baseline":"middle"},"encoding":{"text":{"field":"t"}}},
{"data":{"name":"capBold"},"mark":{"type":"text","font":"Liberation Serif","fontWeight":"bold","fontSize":16.3,"color":"#111111","align":"left","baseline":"middle"},"encoding":{"text":{"field":"t"}}},
{"data":{"name":"cap"},"mark":{"type":"text","font":"Liberation Serif","fontSize":16.3,"color":"#111111","align":"left","baseline":"middle"},"encoding":{"text":{"field":"t"}}}
]}
